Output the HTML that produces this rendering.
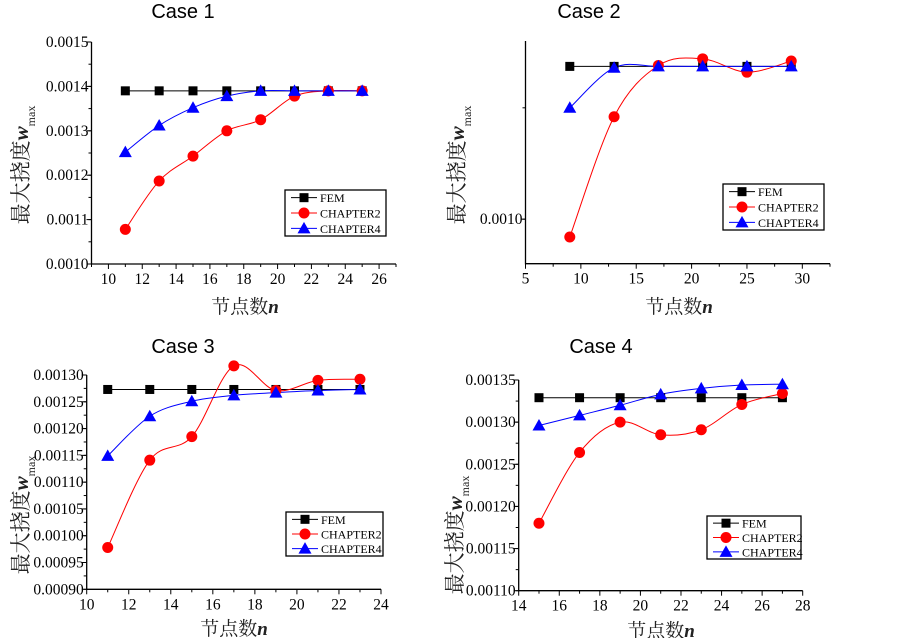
<!DOCTYPE html>
<html><head><meta charset="utf-8"><style>
html,body{margin:0;padding:0;background:#fff;width:903px;height:638px;overflow:hidden}
svg{display:block}
</style></head><body>
<svg id="root" width="903" height="638" xmlns="http://www.w3.org/2000/svg"></svg>
<script>
// ---- data ----
const xCase1 = [11,13,15,17,19,21,23,25];
const femCase1 = [0.00139,0.00139,0.00139,0.00139,0.00139,0.00139,0.00139,0.00139];
const ch2Case1 = [0.001078,0.001187,0.001243,0.0013,0.001325,0.001378,0.00139,0.00139];
const ch4Case1 = [0.001252,0.001312,0.001352,0.001378,0.00139,0.00139,0.00139,0.00139];
const yTicksCase1 = [0.0010,0.0011,0.0012,0.0013,0.0014,0.0015];
const yLabelsCase1 = ["0.0010","0.0011","0.0012","0.0013","0.0014","0.0015"];
const xTicksCase1 = [10,12,14,16,18,20,22,24,26];

const xCase2 = [9,13,17,21,25,29];
const femCase2 = [0.0010686,0.0010686,0.0010686,0.0010686,0.0010686,0.0010686];
const ch2Case2 = [0.000992,0.001046,0.001069,0.001072,0.001066,0.001071];
const ch4Case2 = [0.00105,0.001068,0.0010686,0.0010686,0.0010686,0.0010686];
const yTicksCase2 = [0.0010];
const yLabelsCase2 = ["0.0010"];
const xTicksCase2 = [5,10,15,20,25,30];

const xCase3 = [11,13,15,17,19,21,23];
const femCase3 = [0.001273,0.001273,0.001273,0.001273,0.001273,0.001273,0.001273];
const ch2Case3 = [0.000978,0.001141,0.001185,0.001317,0.001271,0.00129,0.001292];
const ch4Case3 = [0.001149,0.001223,0.001251,0.001262,0.001267,0.001271,0.001273];
const yTicksCase3 = [0.0009,0.00095,0.0010,0.00105,0.0011,0.00115,0.0012,0.00125,0.0013];
const yLabelsCase3 = ["0.00090","0.00095","0.00100","0.00105","0.00110","0.00115","0.00120","0.00125","0.00130"];
const xTicksCase3 = [10,12,14,16,18,20,22,24];

const xCase4 = [15,17,19,21,23,25,27];
const femCase4 = [0.001329,0.001329,0.001329,0.001329,0.001329,0.001329,0.001329];
const ch2Case4 = [0.00118,0.001264,0.0013,0.001285,0.001291,0.001321,0.001334];
const ch4Case4 = [0.001296,0.001308,0.00132,0.001333,0.00134,0.001344,0.001345];
const yTicksCase4 = [0.0011,0.00115,0.0012,0.00125,0.0013,0.00135];
const yLabelsCase4 = ["0.00110","0.00115","0.00120","0.00125","0.00130","0.00135"];
const xTicksCase4 = [14,16,18,20,22,24,26,28];

const seriesNames = ["FEM","CHAPTER2","CHAPTER4"];

const NS="http://www.w3.org/2000/svg";
const root=document.getElementById('root');
function mk(tag,attrs,parent){const e=document.createElementNS(NS,tag);for(const k in attrs)e.setAttribute(k,attrs[k]);(parent||root).appendChild(e);return e;}

function spline(pts){
  if(pts.length<2)return '';
  let d=`M${pts[0][0]},${pts[0][1]}`;
  for(let i=0;i<pts.length-1;i++){
    const p0=pts[Math.max(0,i-1)],p1=pts[i],p2=pts[i+1],p3=pts[Math.min(pts.length-1,i+2)];
    const c1=[p1[0]+(p2[0]-p0[0])/6,p1[1]+(p2[1]-p0[1])/6];
    const c2=[p2[0]-(p3[0]-p1[0])/6,p2[1]-(p3[1]-p1[1])/6];
    d+=` C${c1[0]},${c1[1]} ${c2[0]},${c2[1]} ${p2[0]},${p2[1]}`;
  }
  return d;
}
function marker(g,type,x,y,color){
  let m;
  if(type==='sq') m=mk('rect',{x:x-4.5,y:y-4.5,width:9,height:9,fill:color},g);
  else if(type==='ci') m=mk('circle',{cx:x,cy:y,r:5.5,fill:color},g);
  else m=mk('polygon',{points:`${x},${y-6.5} ${x-6.5},${y+5} ${x+6.5},${y+5}`,fill:color},g);
  return m;
}

function panel(cfg){
  const g=mk('g',{});
  
  
  const X=v=>cfg.x0+(v-cfg.xmin)/(cfg.xmax-cfg.xmin)*(cfg.x1-cfg.x0);
  const Y=v=>cfg.yb+(v-cfg.ymin)/(cfg.ymax-cfg.ymin)*(cfg.yt-cfg.yb);
  const t=mk('text',{x:cfg.tx,y:cfg.ty,'font-family':'Liberation Sans, sans-serif','font-size':20,'text-anchor':'middle',fill:'#000'},g);
  t.textContent=cfg.title;
  
  
  const ax=mk('path',{d:`M${cfg.x0},${cfg.yt} L${cfg.x0},${cfg.yb} L${cfg.x1},${cfg.yb}`,stroke:'#000','stroke-width':1.3,fill:'none'},g);
  
  
  const xs=cfg.xticks; const step=xs[1]-xs[0];
  xs.forEach((v,i)=>{
    mk('line',{x1:X(v),x2:X(v),y1:cfg.yb,y2:cfg.yb+5,stroke:'#000','stroke-width':1},g);
    const mv=v+step/2; if(X(mv)<=cfg.x1) mk('line',{x1:X(mv),x2:X(mv),y1:cfg.yb,y2:cfg.yb+3,stroke:'#000','stroke-width':1},g);
    if(i===0){const lv=v-step/2; if(X(lv)>=cfg.x0) mk('line',{x1:X(lv),x2:X(lv),y1:cfg.yb,y2:cfg.yb+3,stroke:'#000','stroke-width':1},g);}
    const tl=mk('text',{x:X(v),y:cfg.yb+20,'font-family':'Liberation Serif, serif','font-size':15.5,'text-anchor':'middle'},g);
    tl.textContent=String(v);
    
    
  });
  cfg.yticks.forEach((v,i)=>{
    mk('line',{x1:cfg.x0-5,x2:cfg.x0,y1:Y(v),y2:Y(v),stroke:'#000','stroke-width':1},g);
    const tl=mk('text',{x:cfg.x0-3,y:Y(v)+5,'font-family':'Liberation Serif, serif','font-size':15.5,'text-anchor':'end'},g);
    tl.textContent=cfg.ylabels[i];
    
    
  });
  const ms=cfg.yminor;
  for(let k=-40;k<=40;k++){const v=cfg.yticks[0]+k*ms; if(Y(v)>=cfg.yt-0.5&&Y(v)<=cfg.yb+0.5) mk('line',{x1:cfg.x0-3,x2:cfg.x0,y1:Y(v),y2:Y(v),stroke:'#000','stroke-width':1},g);}
  const yl=mk('text',{x:0,y:0,transform:`translate(${cfg.ylx},${cfg.yly}) rotate(-90)`,'font-family':'Liberation Serif, Noto Serif CJK SC, serif','font-size':21,'text-anchor':'middle',fill:'#222'},g);
  yl.innerHTML='最大挠度<tspan font-style="italic" font-weight="bold">w</tspan><tspan font-size="12" dy="7">max</tspan>';
  
  
  const xl=mk('text',{x:cfg.xlx,y:cfg.xly,'font-family':'Liberation Serif, Noto Serif CJK SC, serif','font-size':19,'text-anchor':'middle',fill:'#222'},g);
  xl.innerHTML='节点数<tspan font-style="italic" font-weight="bold">n</tspan>';
  
  
  const defs=[[cfg.fem,'#000','sq',false,'fem'],[cfg.ch2,'#ff0000','ci',true,'chapter2'],[cfg.ch4,'#0000ff','tri',true,'chapter4']];
  defs.forEach(([vals,col,mt,sm,nm])=>{
    const pts=cfg.xs.map((x,i)=>[X(x),Y(vals[i])]);
    const p=mk('path',{d:sm?spline(pts):'M'+pts.map(p=>p.join(',')).join(' L'),stroke:col,'stroke-width':1,fill:'none'},g);
    
    
  });
  defs.forEach(([vals,col,mt,sm,nm])=>{
    cfg.xs.forEach((x,i)=>{
      const m=marker(g,mt,X(x),Y(vals[i]),col);
      
      
    });
  });
  const L=cfg.leg;
  const lg=mk('g',{},g);
  
  
  mk('rect',{x:L[0],y:L[1],width:L[2]-L[0],height:L[3]-L[1],fill:'#fff',stroke:'#000','stroke-width':1.3},lg);
  const rh=(L[3]-L[1])/3;
  defs.forEach(([vals,col,mt],i)=>{
    const cy=L[1]+rh*(i+0.5);
    mk('line',{x1:L[0]+6,x2:L[0]+32,y1:cy,y2:cy,stroke:col,'stroke-width':1},lg);
    marker(lg,mt,L[0]+19,cy,col);
    const tt=mk('text',{x:L[0]+35,y:cy+4.5,'font-family':'Liberation Serif, serif','font-size':12},lg);
    tt.textContent=seriesNames[i];
    
    
  });
}

panel({name:'case-1-chart',title:'Case 1',tx:183,ty:18,x0:91.5,x1:396,yt:42,yb:264,xmin:9,xmax:27,ymin:0.0010,ymax:0.0015,
  xs:xCase1,fem:femCase1,ch2:ch2Case1,ch4:ch4Case1,xticks:xTicksCase1,yticks:yTicksCase1,ylabels:yLabelsCase1,yminor:0.00005,
  ylx:28,yly:165,xlx:245,xly:313,leg:[285,190,386,236]});
panel({name:'case-2-chart',title:'Case 2',tx:589,ty:18,x0:525.5,x1:830,yt:41,yb:263.7,xmin:5,xmax:32.5,ymin:0.00098,ymax:0.00108,
  xs:xCase2,fem:femCase2,ch2:ch2Case2,ch4:ch4Case2,xticks:xTicksCase2,yticks:yTicksCase2,ylabels:yLabelsCase2,yminor:0.00005,
  ylx:464,yly:165,xlx:679,xly:313,leg:[723,184,824,230]});
panel({name:'case-3-chart',title:'Case 3',tx:183,ty:353,x0:86.7,x1:381,yt:375,yb:589.3,xmin:10,xmax:24,ymin:0.0009,ymax:0.0013,
  xs:xCase3,fem:femCase3,ch2:ch2Case3,ch4:ch4Case3,xticks:xTicksCase3,yticks:yTicksCase3,ylabels:yLabelsCase3,yminor:0.000025,
  ylx:28,yly:515,xlx:234,xly:635,leg:[286,512,383,556]});
panel({name:'case-4-chart',title:'Case 4',tx:601,ty:353,x0:518.7,x1:802.7,yt:380,yb:590.7,xmin:14,xmax:28,ymin:0.0011,ymax:0.00135,
  xs:xCase4,fem:femCase4,ch2:ch2Case4,ch4:ch4Case4,xticks:xTicksCase4,yticks:yTicksCase4,ylabels:yLabelsCase4,yminor:0.000025,
  ylx:462,yly:535,xlx:661,xly:637,leg:[707,516,801,559]});
</script>
</body></html>
